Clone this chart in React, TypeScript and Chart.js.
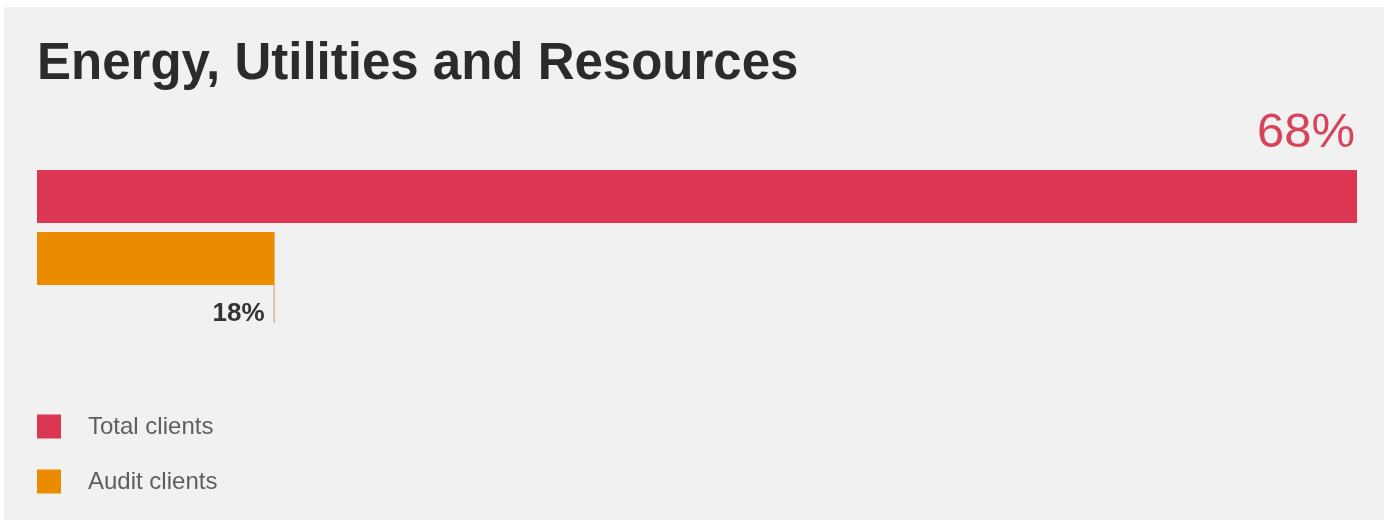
import { useEffect, useRef } from "react";
import { Chart, registerables } from "chart.js";

Chart.register(...registerables);

const TITLE = "Energy, Utilities and Resources";
const CATEGORIES = ["Energy, Utilities and Resources"];
const SERIES_NAMES = ["Total clients", "Audit clients"];
const TOTAL_BAR = [100];
const AUDIT_BAR = [18];
const VALUE_LABELS = ["68%", "18%"];
const X_MIN = 0;
const X_MAX = 100;
const COLORS = ["#db3752", "#eb8c00"];

const FONT = "'Liberation Sans', Arial, Helvetica, sans-serif";

const panelPlugin = {
  id: "panelBg",
  beforeDraw(chart: any) {
    const { ctx, width, height } = chart;
    ctx.save();
    ctx.fillStyle = "#ffffff";
    ctx.fillRect(0, 0, width, height);
    ctx.fillStyle = "#f1f1f1";
    ctx.fillRect(4, 7, width - 9, height - 7);
    ctx.restore();
  },
};

const valueLabelPlugin = {
  id: "valueLabels",
  afterDatasetsDraw(chart: any) {
    const { ctx } = chart;
    const red = chart.getDatasetMeta(0).data[0];
    const org = chart.getDatasetMeta(1).data[0];
    ctx.save();
    if (red) {
      const top = red.y - red.height / 2;
      ctx.font = `49px ${FONT}`;
      ctx.fillStyle = "#d6445b";
      ctx.textAlign = "right";
      ctx.textBaseline = "alphabetic";
      ctx.fillText(VALUE_LABELS[0], red.x - 2, top - 23);
    }
    if (org) {
      const bottom = org.y + org.height / 2;
      ctx.strokeStyle = "#c99a62";
      ctx.lineWidth = 1;
      ctx.beginPath();
      ctx.moveTo(org.x - 0.5, bottom);
      ctx.lineTo(org.x - 0.5, bottom + 38);
      ctx.stroke();
      ctx.font = `bold 26px ${FONT}`;
      ctx.fillStyle = "#333333";
      ctx.textAlign = "right";
      ctx.textBaseline = "alphabetic";
      ctx.fillText(VALUE_LABELS[1], org.x - 10, bottom + 36);
    }
    ctx.restore();
  },
};

const legendPlugin = {
  id: "stackLegend",
  afterDraw(chart: any) {
    const { ctx, chartArea } = chart;
    ctx.save();
    chart.data.datasets.forEach((ds: any, i: number) => {
      const top = chartArea.bottom + 125 + i * 55;
      ctx.fillStyle = ds.backgroundColor;
      ctx.fillRect(chartArea.left, top, 24, 24);
      ctx.font = `24px ${FONT}`;
      ctx.fillStyle = "#5e5e5e";
      ctx.textAlign = "left";
      ctx.textBaseline = "middle";
      ctx.fillText(ds.label, chartArea.left + 51, top + 13);
    });
    ctx.restore();
  },
};

export default function App() {
  const ref = useRef<HTMLCanvasElement | null>(null);

  useEffect(() => {
    if (!ref.current) return;
    const chart = new Chart(ref.current, {
      type: "bar",
      data: {
        labels: CATEGORIES,
        datasets: [
          {
            label: SERIES_NAMES[0],
            data: TOTAL_BAR,
            backgroundColor: COLORS[0],
            borderWidth: 0,
          },
          {
            label: SERIES_NAMES[1],
            data: AUDIT_BAR,
            backgroundColor: COLORS[1],
            borderWidth: 0,
          },
        ],
      },
      options: {
        indexAxis: "y",
        responsive: false,
        animation: false,
        datasets: {
          bar: { categoryPercentage: 1, barPercentage: 53 / 62 },
        },
        layout: {
          padding: { top: 0, left: 37, right: 32, bottom: 230.5 },
        },
        scales: {
          x: { min: X_MIN, max: X_MAX, display: false },
          y: { display: false },
        },
        plugins: {
          legend: { display: false },
          tooltip: { enabled: false },
          title: {
            display: true,
            text: TITLE,
            align: "start",
            color: "#2b2b2b",
            font: { family: FONT, size: 51, weight: "bold", lineHeight: 1.2 },
            padding: { top: 34, bottom: 70.3 },
          },
        },
      },
      plugins: [panelPlugin, valueLabelPlugin, legendPlugin],
    });
    return () => chart.destroy();
  }, []);

  return (
    <div style={{ position: "fixed", left: 0, top: 0, width: 1389, height: 520 }}>
      <canvas ref={ref} width={1389} height={520} style={{ display: "block" }} />
    </div>
  );
}
